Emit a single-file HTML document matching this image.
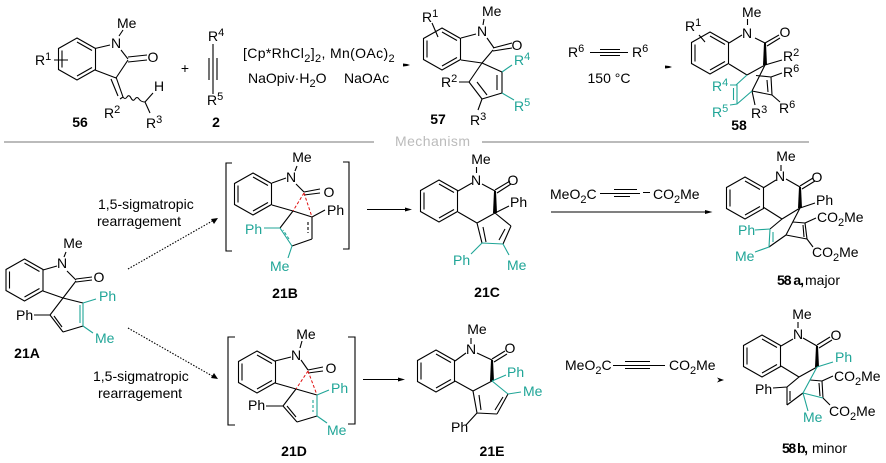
<!DOCTYPE html>
<html><head><meta charset="utf-8"><style>
html,body{margin:0;padding:0;background:#fff}
svg{display:block}
text{font-family:"Liberation Sans",sans-serif;font-size:14px;fill:#000}
.b{font-weight:bold}
.m{text-anchor:middle}
.t{fill:#1fa597}
.k{fill:none;stroke:#000;stroke-width:1.1}
.c{fill:none;stroke:#1fa597;stroke-width:1.1}
.r{fill:none;stroke:#e01010;stroke-width:1;stroke-dasharray:3 2}
tspan.s{font-size:11px}
</style></head><body>
<svg width="886" height="463" viewBox="0 0 886 463" xmlns="http://www.w3.org/2000/svg">
<defs><g id="bz"><path class="k" d="M0 0L18.5 10.5V31.5L0 42L-18.5 31.5V10.5Z M0 4L15 12.5 M0 38L15 29.5 M-15 12.5V29.5"/></g></defs>

<!-- separator -->
<rect x="4" y="141" width="370" height="2" fill="#bbb"/>
<rect x="482" y="141" width="327" height="2" fill="#bbb"/>
<text x="395" y="146" textLength="75" style="fill:#bbb">Mechanism</text>

<!-- 56 -->
<use href="#bz" x="77" y="38"/>
<path class="k" d="M95 48.500L110 45M119 36L123 30M121 50L128 59M128 57L147 55M128 62L147 60M128 60L116 78M95 70L116 78M116 77L123 97M111 79L118 96M123 97L120 99M145 102L153 93M145 102L150 113M54 60L68 60M123 97q2 3 4 0t4 1t4 1t4 0t6 3"/>
<text x="35" y="65">R<tspan class="s" dy="-5">1</tspan></text>
<text x="117" y="28">Me</text><text x="116" y="48" class="m">N</text><text x="153" y="62" class="m">O</text>
<text x="154" y="91">H</text>
<text x="104" y="118">R<tspan class="s" dy="-5">2</tspan></text>
<text x="146" y="128">R<tspan class="s" dy="-5">3</tspan></text>
<text x="80" y="127" class="b m">56</text>
<text x="185" y="73" class="m">+</text>
<text x="208" y="41">R<tspan class="s" dy="-5">4</tspan></text>
<path class="k" d="M213 44V94M209 58V80M217 58V80"/>
<text x="207" y="105">R<tspan class="s" dy="-5">5</tspan></text>
<text x="216" y="127" class="b m">2</text>
<text x="243" y="58" style="letter-spacing:.36px">[Cp*RhCl<tspan class="s" dy="4">2</tspan><tspan dy="-4">]</tspan><tspan class="s" dy="4">2</tspan><tspan dy="-4">, Mn(OAc)</tspan><tspan class="s" dy="4">2</tspan></text>
<text x="248" y="83">NaOpiv·H<tspan class="s" dy="4">2</tspan><tspan dy="-4">O</tspan></text>
<text x="344" y="83">NaOAc</text>
<polygon points="403,63.500 407,64 410,65 407,66 403,66.500" fill="#000"/>

<!-- 57 -->
<use href="#bz" x="442" y="28"/>
<path class="k" d="M432 23L438 37M484 19L483 25M461 38L476 34M487 38L494 48M493 48L512 43M493 51L512 48M493 50L482 63M461 60L482 63M482 63L502 72M502 93L482 99M482 99L469 82M477 82L487 95M469 82L482 63M459 82L469 82M482 99L478 110"/>
<path class="k" d="M502 72V93M497 75V90"/>
<path class="c" d="M502 72L512 65M502 93L514 100"/>
<text x="422" y="22">R<tspan class="s" dy="-5">1</tspan></text>
<text x="482" y="16">Me</text><text x="482" y="36" class="m">N</text><text x="517" y="50" class="m">O</text>
<text x="441" y="87">R<tspan class="s" dy="-5">2</tspan></text>
<text x="470" y="125">R<tspan class="s" dy="-5">3</tspan></text>
<text x="514" y="65" class="t">R<tspan class="s t" dy="-5">4</tspan></text>
<text x="514" y="111" class="t">R<tspan class="s t" dy="-5">5</tspan></text>
<text x="438" y="124" class="b m">57</text>

<!-- alkyne R6 -->
<text x="568" y="57">R<tspan class="s" dy="-5">6</tspan></text>
<path class="k" d="M590 52.500H628M600 49.500H620M600 55.500H620"/>
<text x="632" y="57">R<tspan class="s" dy="-5">6</tspan></text>
<text x="609" y="83" class="m">150 °C</text>
<polygon points="665,65.500 669,66 672,67 669,68 665,68.500" fill="#000"/>

<!-- 58 -->
<use href="#bz" x="710" y="32"/>
<path class="k" d="M699 35L705 42M747.500 19V25M729 43L742 35M755 38L765 43M765 43L779 35M767 46L780 38M729 64L747 75M747 75L765 65M752 91L765 65M752 91L772 95M772 95L771 77M767 80L768 92M771 77L756 75.500M765 65L782 60M771 77L782 73M772 95L780 102M752 91L755 105"/>
<polygon points="764,43 766,43 767,65 763,65" fill="#000"/>
<path class="c" d="M747 75L736 85M730 85H737V104M733.500 88V100M730 105L737 104L752 91"/>
<text x="685" y="31">R<tspan class="s" dy="-5">1</tspan></text>
<text x="742" y="17">Me</text><text x="747" y="38" class="m">N</text><text x="785" y="37" class="m">O</text>
<text x="783" y="61">R<tspan class="s" dy="-5">2</tspan></text>
<text x="783" y="77">R<tspan class="s" dy="-5">6</tspan></text>
<text x="779" y="113">R<tspan class="s" dy="-5">6</tspan></text>
<text x="751" y="118">R<tspan class="s" dy="-5">3</tspan></text>
<text x="712" y="91" class="t">R<tspan class="s t" dy="-5">4</tspan></text>
<text x="712" y="117" class="t">R<tspan class="s t" dy="-5">5</tspan></text>
<text x="739" y="130" class="b m">58</text>

<!-- 21A -->
<use href="#bz" x="24.500" y="259"/>
<path class="k" d="M43 270L57 266M66 252L64 257M67 271L76 280M76 279L92 277M76 282L92 280M76 281L63 298M43 291L63 298M63 298L83 303M83 326L63 332M63 332L50 315M62 327L54 316M50 315L63 298M34 315L50 315"/>
<path class="c" d="M83 303V326M80 305V323M83 303L96 299M83 326L93 333"/>
<text x="73" y="248" class="m">Me</text><text x="62" y="268" class="m">N</text><text x="99" y="282" class="m">O</text>
<text x="16" y="320">Ph</text>
<text x="99" y="301" class="t">Ph</text><text x="95" y="343" class="t">Me</text>
<text x="27" y="358" class="b m">21A</text>

<!-- dotted arrows -->
<path class="k" stroke-dasharray="1.500 1.500" d="M128 269L214 220M128 328L214 377"/>
<polygon points="218,218 211,219 214,224" fill="#000"/>
<polygon points="218,379 211,378 214,373" fill="#000"/>
<text x="98" y="209">1,5-sigmatropic</text><text x="97" y="226">rearragement</text>
<text x="93" y="381">1,5-sigmatropic</text><text x="98" y="398">rearragement</text>

<!-- 21B -->
<use href="#bz" x="253" y="173"/>
<path class="k" d="M232 163H226V251H232M343 162H349V249H343"/>
<path class="k" d="M297 166L295 171M272 183L286 178M296 184L304 192M304 192L320 189M304 195L320 193M272 205L293 211M293 211L312 217M312 217V239M312 239L292 246M280 228L293 211M312 217L325 210"/>
<path class="k" stroke-dasharray="3 2" d="M308 222V233"/>
<path class="r" d="M304 193L293 211M304 193L312 217"/>
<path class="c" d="M292 246L280 228M264 228H280M292 246L288 258"/>
<path class="c" stroke-dasharray="3 2" d="M289 239L283 230"/>
<text x="302" y="162" class="m">Me</text><text x="291" y="182" class="m">N</text><text x="329" y="197" class="m">O</text>
<text x="327" y="215">Ph</text>
<text x="245" y="234" class="t">Ph</text><text x="270" y="271" class="t">Me</text>
<text x="285" y="298" class="b m">21B</text>

<!-- 21D -->
<use href="#bz" x="257" y="351"/>
<path class="k" d="M235 337H228V425H235M348 337H355V424H348"/>
<path class="k" d="M302 341L300 348M275 361L291 357M301 360L308 370M308 370L323 367M308 373L323 371M275 383L296 389M296 389L317 395M317 416L297 422M297 422L283 406M296 417L287 406M283 406L296 389M266 406H283"/>
<path class="r" d="M308 371L296 389M308 371L317 395"/>
<path class="c" d="M317 395V416M317 395L329 390M317 416L327 423"/>
<path class="c" stroke-dasharray="3 2" d="M313 400V412"/>
<text x="306" y="339" class="m">Me</text><text x="296" y="360" class="m">N</text><text x="331" y="373" class="m">O</text>
<text x="248" y="410">Ph</text>
<text x="331" y="393" class="t">Ph</text><text x="327" y="435" class="t">Me</text>
<text x="294" y="456" class="b m">21D</text>

<!-- arrows mid -->
<path class="k" d="M367 209.500H408"/><polygon points="412,209.500 405,207.500 405,211.500" fill="#000"/>
<path class="k" d="M363 379.500H401"/><polygon points="405,379.500 398,377.500 398,381.500" fill="#000"/>

<!-- 21C -->
<use href="#bz" x="439" y="180"/>
<path class="k" d="M476.500 167V173M458 191L472 183M482 184L495 191M495 190L510 181M497 193L511 184M458 212L477 223M495 213L477 223M477 223L482 243M483 227L486 242M503 244L511 226M499 240L505 229M511 226L495 213M495 213L509 206"/>
<polygon points="494,191 496,191 497,213 493,213" fill="#000"/>
<path class="c" d="M482 243L503 244M482 243L471 254M503 244L509 255"/>
<text x="481" y="164" class="m">Me</text><text x="476" y="185" class="m">N</text><text x="513" y="185" class="m">O</text>
<text x="510" y="207">Ph</text>
<text x="453" y="265" class="t">Ph</text><text x="507" y="270" class="t">Me</text>
<text x="487" y="297" class="b m">21C</text>

<!-- 21E -->
<use href="#bz" x="436" y="350"/>
<path class="k" d="M471 338V344M455 361L466 353M477 353L492 360M492 359L505 351M494 362L507 354M455 381L473 391M492 381L473 391M473 391L477 413M479 395L481 410M477 413L497 414M497 414L508 394M495 410L503 397M477 413L466 425"/>
<polygon points="491,360 493,360 494,381 490,381" fill="#000"/>
<path class="c" d="M508 394L492 381M492 381L506 375M508 394L521 392"/>
<text x="477" y="334" class="m">Me</text><text x="471" y="354" class="m">N</text><text x="510" y="353" class="m">O</text>
<text x="451" y="432">Ph</text>
<text x="507" y="377" class="t">Ph</text><text x="523" y="396" class="t">Me</text>
<text x="492" y="456" class="b m">21E</text>

<!-- alkyne a -->
<text x="550" y="199">MeO<tspan class="s" dy="4">2</tspan><tspan dy="-4">C</tspan></text>
<path class="k" d="M600 193.500H640M643 192.500H650M614 189.500H637M614 196.500H630"/>
<text x="653" y="199">CO<tspan class="s" dy="4">2</tspan><tspan dy="-4">Me</tspan></text>
<path class="k" d="M551 212H708"/><polygon points="712.500,212 705,210 705,214" fill="#000"/>

<!-- alkyne b -->
<text x="565" y="370">MeO<tspan class="s" dy="4">2</tspan><tspan dy="-4">C</tspan></text>
<path class="k" d="M613 365.500H665M625 361.500H650M625 368.500H650"/>
<text x="669" y="370">CO<tspan class="s" dy="4">2</tspan><tspan dy="-4">Me</tspan></text>
<polygon points="724,380 717,377.500 719,380 717,382.500" fill="#000"/>

<!-- 58a -->
<use href="#bz" x="745" y="177"/>
<path class="k" d="M781 165V171M763 188L776 180M786 179L800 187M800 186L813 178M802 189L815 181M763 207L782 219M782 219L800 208M782 219L770 229M769 247L786 235M786 235L800 208M786 235L807 239M807 239L805 223M803 225L804 237M805 223L793 222M805 223L816 218M807 239L813 247M800 208L815 203"/>
<polygon points="799,187 801,187 802,208 798,208" fill="#000"/>
<path class="c" d="M770 229L769 247M773 232V242M755 230L770 229M755 252L769 247"/>
<text x="786" y="161" class="m">Me</text><text x="780" y="181" class="m">N</text><text x="817" y="182" class="m">O</text>
<text x="816" y="205">Ph</text>
<text x="817" y="222">CO<tspan class="s" dy="4">2</tspan><tspan dy="-4">Me</tspan></text>
<text x="812" y="257">CO<tspan class="s" dy="4">2</tspan><tspan dy="-4">Me</tspan></text>
<text x="738" y="235" class="t">Ph</text><text x="735" y="261" class="t">Me</text>
<text x="777" y="285" class="b" textLength="27">58 a,</text><text x="805" y="285">major</text>

<!-- 58b -->
<use href="#bz" x="762" y="335"/>
<path class="k" d="M798 322V328M781 346L793 339M803 338L817 346M817 345L830 337M819 348L832 340M781 366L799 377M799 377L817 367M799 377L787 387M787 387V405M790 391V401M787 405L803 393M823 398L822 381M819 383L820 396M822 381L810 380M822 381L833 376M823 398L830 405M773 388L787 387"/>
<polygon points="816,346 818,346 819,367 815,367" fill="#000"/>
<path class="c" d="M803 393L817 367M803 393L823 398M817 367L833 362M803 393L808 411"/>
<text x="802" y="319" class="m">Me</text><text x="798" y="339" class="m">N</text><text x="836" y="340" class="m">O</text>
<text x="834" y="381">CO<tspan class="s" dy="4">2</tspan><tspan dy="-4">Me</tspan></text>
<text x="829" y="416">CO<tspan class="s" dy="4">2</tspan><tspan dy="-4">Me</tspan></text>
<text x="755" y="394">Ph</text>
<text x="835" y="362" class="t">Ph</text><text x="803" y="422" class="t">Me</text>
<text x="782" y="453" class="b" textLength="26">58 b,</text><text x="812" y="453">minor</text>
</svg>
</body></html>
